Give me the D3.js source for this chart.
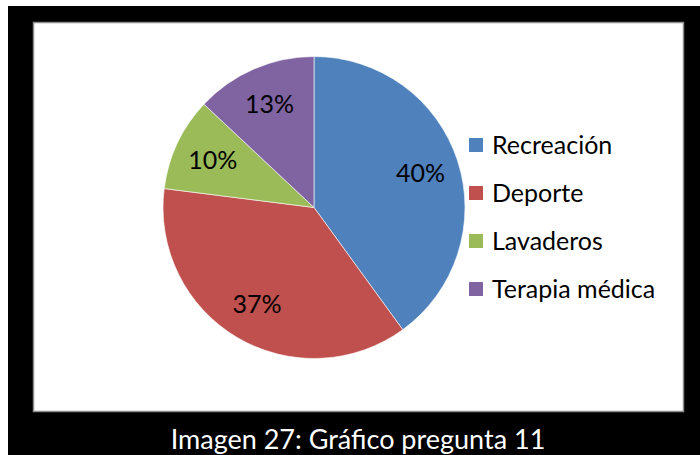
<!DOCTYPE html>
<html>
<head>
<meta charset="utf-8">
<script src="https://cdn.jsdelivr.net/npm/d3@7"></script>
<style>
  body { margin: 0; background: #fff; }
  svg { display: block; }
</style>
</head>
<body>
<script>
let categories = ["Recreación", "Deporte", "Lavaderos", "Terapia médica"];
let values = [40, 37, 10, 13];
let colors = ["#4F81BD", "#C0504D", "#9BBB59", "#8064A2"];
let caption = "Imagen 27: Gráfico pregunta 11";

let width = 700;
let height = 455;
let font = "Lato, 'Open Sans', sans-serif";

let svg = d3.select("body").append("svg").attr("width", width).attr("height", height);

// black frame and white chart area
svg.append("rect").attr("x", 8).attr("y", 6).attr("width", width - 8).attr("height", height - 6).attr("fill", "#000");
svg.append("rect").attr("x", 33.5).attr("y", 22.5).attr("width", 650).attr("height", 389)
    .attr("fill", "#fff").attr("stroke", "#8c8c8c").attr("stroke-width", 1.5);

let cx = 314, cy = 207.5, radius = 151;

let pie = d3.pie().sort(null).value((d) => {return d;});
let arc = d3.arc().innerRadius(0).outerRadius(radius);
let labelArc = d3.arc().innerRadius(112).outerRadius(112);
let total = d3.sum(values);

let g = svg.append("g").attr("transform", "translate(" + cx + "," + cy + ")");

g.selectAll("path").data(pie(values)).enter().append("path")
    .attr("d", arc)
    .attr("fill", (d, i) => {return colors[i];})
    .attr("stroke", "#fff").attr("stroke-width", 0.6);

g.selectAll("text").data(pie(values)).enter().append("text")
    .attr("transform", (d) => {return "translate(" + labelArc.centroid(d) + ")";})
    .attr("text-anchor", "middle").attr("dy", "0.35em")
    .attr("font-family", font).attr("font-size", 25).attr("fill", "#000")
    .text((d) => {return Math.round(d.value / total * 100) + "%";});

// legend
let legend = svg.append("g").attr("transform", "translate(469,145)");
let rows = legend.selectAll("g").data(categories).enter().append("g")
    .attr("transform", (d, i) => {return "translate(0," + (i * 48) + ")";});
rows.append("rect").attr("x", 0).attr("y", -7).attr("width", 14).attr("height", 14)
    .attr("fill", (d, i) => {return colors[i];});
rows.append("text").attr("x", 23).attr("dy", "0.35em")
    .attr("font-family", font).attr("font-size", 25).attr("fill", "#000")
    .text((d) => {return d;});

svg.append("text").attr("x", 358).attr("y", 449).attr("text-anchor", "middle")
    .attr("font-family", font).attr("font-size", 27).attr("fill", "#fff")
    .text(caption);
</script>
</body>
</html>
